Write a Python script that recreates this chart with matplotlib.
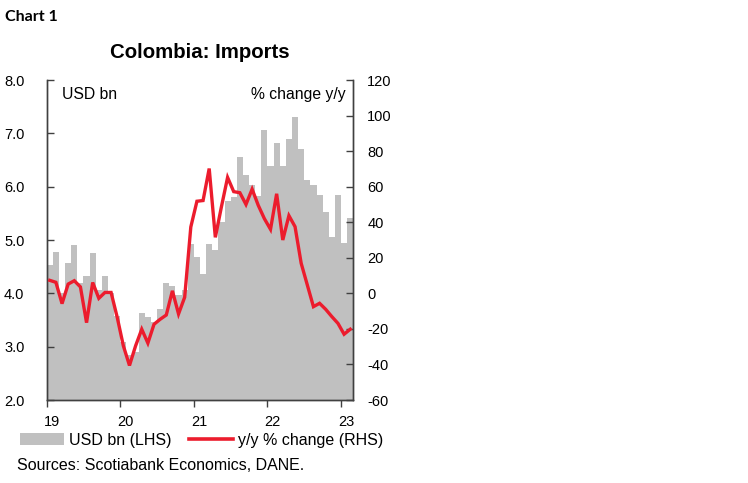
import matplotlib
matplotlib.use("Agg")
import matplotlib.pyplot as plt
import numpy as np
from matplotlib.patches import Patch
from matplotlib.lines import Line2D
from matplotlib.ticker import FixedLocator, NullFormatter

plt.rcParams['font.family'] = ['Liberation Sans', 'DejaVu Sans']

# Monthly data, Jan-2019 .. Feb-2023 (50 months)
imports_usd_bn = [4.53, 4.78, 4.00, 4.56, 4.91, 4.19, 4.33, 4.75, 4.06, 4.33, 4.00, 3.58,
                  3.08, 2.84, 2.90, 3.64, 3.56, 3.47, 3.70, 4.19, 4.14, 3.97, 4.06, 4.93,
                  4.69, 4.37, 4.92, 4.81, 5.34, 5.74, 5.81, 6.55, 6.22, 6.04, 5.82, 7.06,
                  6.39, 6.81, 6.38, 6.89, 7.30, 6.70, 6.13, 6.03, 5.84, 5.53, 5.06, 5.84,
                  4.94, 5.42]
yoy_pct = [7.3, 6.2, -5.8, 5.2, 7.1, 3.6, -16.5, 6.1, -2.8, 0.5, 0.5, -13.5,
           -29.5, -40.6, -29.5, -20.2, -28.0, -17.4, -14.6, -12.2, 1.4, -11.6, -2.2, 37.3,
           51.8, 52.2, 70.2, 31.5, 48.8, 65.2, 57.2, 56.6, 50.0, 58.6, 49.5, 42.0,
           36.0, 56.0, 30.0, 43.7, 37.5, 16.9, 4.7, -7.5, -5.6, -9.0, -13.1, -16.9,
           -23.0, -20.2]
year_labels = ["19", "20", "21", "22", "23"]
left_ticks = [2.0, 3.0, 4.0, 5.0, 6.0, 7.0, 8.0]
right_ticks = [-60, -40, -20, 0, 20, 40, 60, 80, 100, 120]

BAR = '#C0C0C0'
RED = '#EC1C2D'
AXC = '#404040'
TXT = 11.3

fig = plt.figure(figsize=(7.48, 4.83), dpi=100)
ax = fig.add_axes([46.7/748, 1-400/483, (353.3-46.7)/748, 320/483])
ax2 = ax.twinx()

x = np.arange(len(imports_usd_bn))
ax.bar(x, imports_usd_bn, width=1.0, color=BAR, linewidth=0, zorder=1)
ax2.plot(x, yoy_pct, color=RED, lw=2.4, solid_joinstyle='miter', zorder=3)

ax.set_xlim(-0.5, len(x) - 0.5)
ax.set_ylim(2.0, 8.0)
ax2.set_ylim(-60, 120)

ax.set_yticks(left_ticks)
ax.set_yticklabels([f"{v:.1f}" for v in left_ticks])
ax2.set_yticks(right_ticks)
ax2.set_yticklabels([str(v) for v in right_ticks])

# year boundaries as tick marks, labels slightly right of them
bounds = [-0.5 + 12*i for i in range(len(year_labels))]
ax.xaxis.set_minor_locator(FixedLocator(bounds))
ax.xaxis.set_minor_formatter(NullFormatter())
ax.set_xticks([b + 0.85 for b in bounds])
ax.set_xticklabels(year_labels)
ax.tick_params(axis='x', which='major', length=0, pad=10.5, labelsize=10.5, colors='black')
ax.tick_params(axis='x', which='minor', length=5, width=1, color=AXC, direction='out')
ax.tick_params(axis='y', direction='in', length=5, width=1, color=AXC, labelsize=10.5, pad=16)
ax2.tick_params(axis='y', direction='in', length=5, width=1, color=AXC, labelsize=10.5, pad=10)

for a in (ax, ax2):
    a.spines['top'].set_visible(False)
    for s in ('left', 'right', 'bottom'):
        a.spines[s].set_color(AXC)
        a.spines[s].set_linewidth(1)

ax.text(0.05, 0.955, "USD bn", transform=ax.transAxes, fontsize=TXT, ha='left', va='center')
ax.text(0.975, 0.955, "% change y/y", transform=ax.transAxes, fontsize=TXT, ha='right', va='center')

fig.text(5/748, 1-17/483, "Chart 1", fontsize=11.5, fontweight='bold', family=['Lato', 'DejaVu Sans'],
         ha='left', va='center')
fig.text(200/748, 1-52/483, "Colombia: Imports", fontsize=14.7, fontweight='bold', ha='center', va='center')

handles = [Patch(facecolor=BAR, edgecolor='none'), Line2D([0], [0], color=RED, lw=2.6)]
fig.legend(handles, ["USD bn (LHS)", "y/y % change (RHS)"], ncol=2, frameon=False,
           loc='center left', bbox_to_anchor=(20/748, 1-440/483), fontsize=11.5,
           handlelength=2.75, handletextpad=0.3, columnspacing=1.1, borderaxespad=0, borderpad=0)

fig.text(17/748, 1-465/483, "Sources: Scotiabank Economics, DANE.", fontsize=11.5, ha='left', va='center')

fig.savefig("out.png", dpi=100)
